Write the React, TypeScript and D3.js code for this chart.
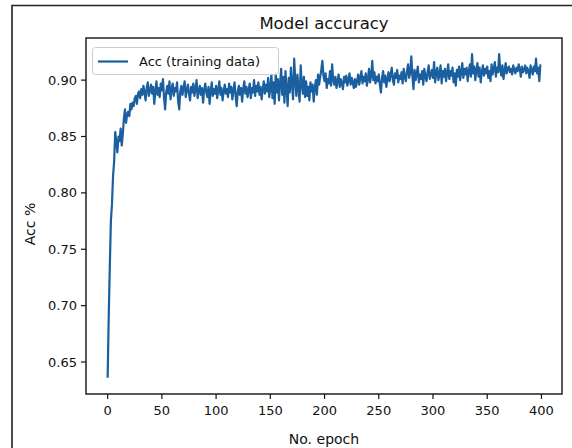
import React from "react";
import * as d3 from "d3";

const title = "Model accuracy";
const xLabel = "No. epoch";
const yLabel = "Acc %";
const seriesName = "Acc (training data)";
const xTicks = [0, 50, 100, 150, 200, 250, 300, 350, 400];
const yTicks = [0.65, 0.7, 0.75, 0.8, 0.85, 0.9];

const accEarly = [
  0.636, 0.690, 0.735, 0.775, 0.790, 0.815, 0.828, 0.854, 0.845, 0.836,
  0.850, 0.846, 0.857, 0.842, 0.852, 0.866, 0.874, 0.862, 0.870, 0.872,
  0.868, 0.879, 0.874, 0.880, 0.877, 0.884, 0.886, 0.879, 0.888, 0.890,
];
const accMid = [
  0.884, 0.892, 0.887, 0.895, 0.889, 0.882, 0.893, 0.898, 0.886, 0.891,
  0.896, 0.888, 0.894, 0.879, 0.890, 0.899, 0.887, 0.893, 0.885, 0.897,
  0.891, 0.901, 0.884, 0.874, 0.889, 0.895, 0.888, 0.899, 0.883, 0.892,
  0.897, 0.886, 0.893, 0.890, 0.898, 0.881, 0.874, 0.890, 0.895, 0.887,
  0.893, 0.899, 0.885, 0.891, 0.896, 0.888, 0.882, 0.894, 0.889, 0.897,
  0.886, 0.892, 0.900, 0.884, 0.890, 0.895, 0.887, 0.893, 0.880, 0.891,
  0.897, 0.889, 0.885, 0.894, 0.879, 0.890, 0.898, 0.886, 0.892, 0.888,
  0.895, 0.884, 0.891, 0.899, 0.887, 0.893, 0.882, 0.890, 0.896, 0.888,
  0.892, 0.885, 0.897, 0.889, 0.894, 0.883, 0.891, 0.898, 0.886, 0.877,
  0.890, 0.895, 0.887, 0.893, 0.881, 0.892, 0.899, 0.888, 0.894, 0.885,
  0.891, 0.897, 0.884, 0.893, 0.889, 0.900, 0.886, 0.895, 0.890, 0.898,
  0.887, 0.894, 0.883, 0.892, 0.899, 0.888, 0.896, 0.890, 0.902, 0.885,
];
const accLate1 = [
  0.893, 0.905, 0.884, 0.898, 0.879, 0.906, 0.889, 0.901, 0.882, 0.897,
  0.910, 0.887, 0.903, 0.880, 0.908, 0.892, 0.877, 0.902, 0.889, 0.911,
  0.896, 0.883, 0.919, 0.900, 0.886, 0.905, 0.892, 0.881, 0.913, 0.897,
  0.888, 0.903, 0.885, 0.899, 0.886, 0.894, 0.882, 0.898, 0.890, 0.896,
  0.881, 0.893, 0.900, 0.887, 0.905, 0.896, 0.903, 0.909, 0.917, 0.904,
  0.899, 0.906, 0.893, 0.901, 0.897, 0.908, 0.895, 0.914, 0.900, 0.896,
  0.903, 0.893, 0.899, 0.905, 0.894, 0.901, 0.897, 0.892, 0.903, 0.898,
  0.904, 0.895, 0.900, 0.906, 0.896, 0.902, 0.898, 0.893, 0.901, 0.894,
  0.899, 0.905, 0.896, 0.902, 0.908, 0.897, 0.903, 0.899, 0.906, 0.895,
  0.901, 0.910, 0.898, 0.904, 0.917, 0.900, 0.907, 0.897, 0.903, 0.899,
  0.905, 0.896, 0.889, 0.902, 0.908, 0.898, 0.904, 0.894, 0.901, 0.907,
];
const accLate2 = [
  0.899, 0.905, 0.911, 0.900, 0.896, 0.906, 0.902, 0.909, 0.898, 0.904,
  0.901, 0.907, 0.897, 0.910, 0.903, 0.899, 0.908, 0.914, 0.902, 0.906,
  0.921, 0.904, 0.892, 0.909, 0.900, 0.906, 0.912, 0.898, 0.905, 0.901,
  0.908, 0.896, 0.910, 0.903, 0.899, 0.907, 0.913, 0.901, 0.905, 0.909,
  0.902, 0.916, 0.898, 0.907, 0.911, 0.900, 0.905, 0.913, 0.897, 0.908,
  0.903, 0.910, 0.899, 0.906, 0.914, 0.901, 0.908, 0.904, 0.911, 0.898,
  0.906, 0.895, 0.909, 0.903, 0.912, 0.900, 0.907, 0.915, 0.902, 0.910,
  0.905, 0.911, 0.899, 0.908, 0.914, 0.903, 0.923, 0.906, 0.912, 0.900,
  0.909, 0.915, 0.903, 0.911, 0.898, 0.907, 0.913, 0.904, 0.910, 0.906,
  0.912, 0.902, 0.908, 0.899, 0.914, 0.905, 0.910, 0.916, 0.903, 0.911,
  0.907, 0.923, 0.909, 0.904, 0.913, 0.901, 0.908, 0.915, 0.906, 0.910,
  0.912, 0.907, 0.910, 0.905, 0.913, 0.909, 0.906, 0.911, 0.908, 0.914,
  0.910, 0.903, 0.912, 0.907, 0.909, 0.913, 0.906, 0.911, 0.908, 0.902,
  0.913, 0.909, 0.905, 0.912, 0.908, 0.919, 0.906, 0.911, 0.899, 0.914,
];

const acc = [...accEarly, ...accMid, ...accLate1, ...accLate2];

const W = 572;
const H = 448;
const plot = { left: 86, right: 562, top: 38, bottom: 394 };
const font = "'DejaVu Sans', sans-serif";
const lineColor = "#1a5f9f";

export default function App() {
  const n = acc.length;
  const xPad = (n - 1) * 0.05;
  const x = d3.scaleLinear().domain([-xPad, n - 1 + xPad]).range([plot.left, plot.right]);
  const [mn, mx] = d3.extent(acc) as [number, number];
  const yPad = (mx - mn) * 0.05;
  const y = d3.scaleLinear().domain([mn - yPad, mx + yPad]).range([plot.bottom, plot.top]);
  const line = d3
    .line<number>()
    .x((_, i) => x(i))
    .y((d) => y(d));
  const path = line(acc) || "";
  const cx = (plot.left + plot.right) / 2;

  return (
    <svg
      width={W}
      height={H}
      style={{ position: "absolute", left: 0, top: 0, background: "#fff" }}
      fontFamily={font}
    >
      <rect x={0} y={0} width={W} height={H} fill="#fff" />
      <path d={`M12,${H} L12,5.5 L${W},5.5`} fill="none" stroke="#222" strokeWidth={1.6} />
      <text x={cx} y={29} textAnchor="middle" fontSize={16.5} fill="#111">
        {title}
      </text>
      <clipPath id="clip">
        <rect x={plot.left} y={plot.top} width={plot.right - plot.left} height={plot.bottom - plot.top} />
      </clipPath>
      <path d={path} fill="none" stroke={lineColor} strokeWidth={2.2} strokeLinejoin="round" clipPath="url(#clip)" />
      <rect
        x={plot.left}
        y={plot.top}
        width={plot.right - plot.left}
        height={plot.bottom - plot.top}
        fill="none"
        stroke="#111"
        strokeWidth={1.4}
      />
      {xTicks.map((t) => (
        <g key={"x" + t}>
          <line x1={x(t)} x2={x(t)} y1={plot.bottom} y2={plot.bottom + 5} stroke="#111" strokeWidth={1.2} />
          <text x={x(t)} y={plot.bottom + 21} textAnchor="middle" fontSize={13} fill="#111">
            {t}
          </text>
        </g>
      ))}
      {yTicks.map((t) => (
        <g key={"y" + t}>
          <line x1={plot.left - 5} x2={plot.left} y1={y(t)} y2={y(t)} stroke="#111" strokeWidth={1.2} />
          <text x={plot.left - 9} y={y(t) + 4.5} textAnchor="end" fontSize={13} fill="#111">
            {t.toFixed(2)}
          </text>
        </g>
      ))}
      <text x={cx} y={444} textAnchor="middle" fontSize={14} fill="#111">
        {xLabel}
      </text>
      <text
        transform={`translate(35,${224}) rotate(-90)`}
        textAnchor="middle"
        fontSize={14}
        fill="#111"
      >
        {yLabel}
      </text>
      <g>
        <rect x={92.5} y={47.5} width={186} height={27} rx={3} fill="#fff" fillOpacity={0.85} stroke="#ccc" />
        <line x1={98} x2={128} y1={61.5} y2={61.5} stroke={lineColor} strokeWidth={2.2} />
        <text x={139} y={66} fontSize={13} fill="#111">
          {seriesName}
        </text>
      </g>
    </svg>
  );
}
